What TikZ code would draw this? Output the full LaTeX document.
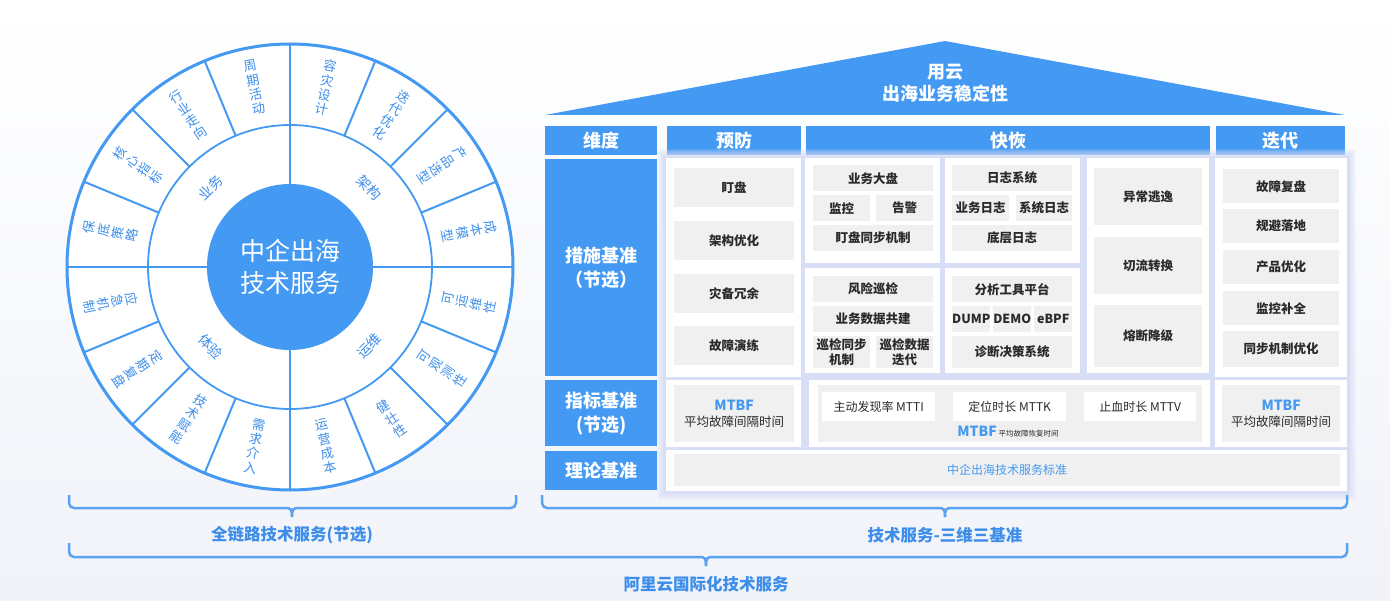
\documentclass[tikz,border=0pt]{standalone}
\usepackage{fontspec}
\setmainfont{Noto Sans CJK SC}
\definecolor{mblue}{HTML}{4499F2}
\definecolor{lblue}{HTML}{3D8EEA}
\definecolor{bblue}{HTML}{5AA2F2}
\definecolor{gbox}{HTML}{F0F0F0}
\definecolor{dtext}{HTML}{2A2A2A}
\definecolor{shad}{HTML}{D8DEF6}
\definecolor{bgc}{HTML}{F1F3F9}
\newcommand{\mybox}[7]{\node[#2,anchor=north west,inner sep=0pt,minimum width={(#5-#3)*1pt},minimum height={(#6-#4)*1pt}] (#1) at (#3,#4) {#7};}
\newcommand{\olab}[4]{\node[otx,rotate=#3] (#1) at (#2:183) {#4};}
\newcommand{\mybrace}[6]{%
 \coordinate (#1l) at (#2,#5); \coordinate (#1r) at (#3,#5); \coordinate (#1t) at (#4,#6+9);
 \draw[brc,rounded corners=5pt] (#1l) -- (#2,#6) -- (#4-7,#6);
 \draw[brc] (#4-7,#6) .. controls (#4-1,#6) and (#4,#6+1) .. (#1t);
 \draw[brc,rounded corners=5pt] (#1r) -- (#3,#6) -- (#4+7,#6);
 \draw[brc] (#4+7,#6) .. controls (#4+1,#6) and (#4,#6+1) .. (#1t);}
\begin{document}
\begin{tikzpicture}[x=1pt,y=-1pt,
 hdr/.style={fill=mblue,text=white,font=\bfseries\fontsize{18}{24}\selectfont,align=center},
 gbx/.style={fill=gbox,text=dtext,font=\bfseries\fontsize{12.5}{15}\selectfont,align=center},
 gbn/.style={fill=gbox,text=dtext,font=\fontsize{12.5}{16}\selectfont,align=center},
 wbx/.style={fill=white,text=dtext,font=\fontsize{12}{15}\selectfont,align=center},
 pnl/.style={fill=white},
 otx/.style={text=lblue,font=\fontsize{13}{14.5}\selectfont,align=center,inner sep=0pt},
 mtx/.style={text=lblue,font=\fontsize{14}{16}\selectfont,inner sep=0pt},
 spoke/.style={draw=mblue,line width=2pt},
 brc/.style={draw=bblue,line width=2.5pt},
 blab/.style={text=lblue,font=\bfseries\fontsize{16.5}{20}\selectfont}]
\useasboundingbox (0,0) rectangle (1390,601);
\shade[top color=white,bottom color=bgc] (0,0) rectangle (1390,601);

% ---------- wheel ----------
\begin{scope}[shift={(290,267)},yscale=-1]
 \fill[white] (0,0) circle (223);
 \foreach \a in {0,22.5,...,337.5} \draw[spoke] (\a:142) -- (\a:223);
 \draw[spoke] (-223,0) -- (223,0);
 \draw[spoke] (0,-223) -- (0,223);
 \draw[draw=mblue,line width=1.8pt] (0,0) circle (142);
 \draw[draw=mblue,line width=3pt] (0,0) circle (223);
 \fill[mblue] (0,0) circle (83);
 \node[text=white,font=\fontsize{25}{32}\selectfont,align=center] (core) at (0,0) {中企出海\\技术服务};
 \node[mtx,rotate=45] (m1) at (135:112) {业务};
 \node[mtx,rotate=-45] (m2) at (45:112) {架构};
 \node[mtx,rotate=45] (m3) at (-45:112) {运维};
 \node[mtx,rotate=-45] (m4) at (225:112) {体验};
 \olab{o1}{101.25}{11.25}{周\\期\\活\\动}
 \olab{o2}{123.75}{33.75}{行\\业\\走\\向}
 \olab{o3}{146.25}{56.25}{核\\心\\指\\标}
 \olab{o4}{168.75}{78.75}{保\\底\\策\\略}
 \olab{o5}{78.75}{-11.25}{容\\灾\\设\\计}
 \olab{o6}{56.25}{-33.75}{迭\\代\\优\\化}
 \olab{o7}{33.75}{-56.25}{产\\品\\选\\型}
 \olab{o8}{11.25}{-78.75}{成\\本\\模\\型}
 \olab{o9}{-11.25}{78.75}{可\\运\\维\\性}
 \olab{o10}{-33.75}{56.25}{可\\观\\测\\性}
 \olab{o11}{-56.25}{33.75}{健\\壮\\性}
 \olab{o12}{-78.75}{11.25}{运\\营\\成\\本}
 \olab{o13}{191.25}{281.25}{应\\急\\机\\制}
 \olab{o14}{213.75}{303.75}{定\\期\\复\\盘}
 \olab{o15}{236.25}{326.25}{技\\术\\赋\\能}
 \olab{o16}{258.75}{348.75}{需\\求\\介\\入}
\end{scope}

% ---------- roof ----------
\fill[mblue] (545,115) -- (945,41) -- (1345,115) -- cycle;
\node[text=white,font=\bfseries\fontsize{18}{22}\selectfont,align=center] (roof) at (945,83) {用云\\出海业务稳定性};

% ---------- headers ----------
\mybox{h0}{hdr}{545}{126}{657}{155}{维度}
\mybox{h1}{hdr}{667}{126}{801}{155}{预防}
\mybox{h2}{hdr}{806}{126}{1210}{155}{快恢}
\mybox{h3}{hdr}{1216}{126}{1345}{155}{迭代}
\mybox{r1}{hdr}{545}{159}{657}{376}{措施基准\\（节选）}
\mybox{r2}{hdr}{545}{380}{657}{446}{指标基准\\(节选)}
\mybox{r3}{hdr}{545}{451}{657}{490}{理论基准}

% ---------- glow behind panels ----------
\foreach \k in {1,...,6} \fill[shad,opacity=0.16] (663-\k,155-\k) rectangle (1350+\k,494+\k);
\fill[shad] (663,156) rectangle (1350,494);

% ---------- panels ----------
\mybox{p1}{pnl}{666}{158}{801}{377}{}
\mybox{p2}{pnl}{805}{158}{940}{263}{}
\mybox{p3}{pnl}{805}{268}{940}{373}{}
\mybox{p4}{pnl}{945}{158}{1080}{263}{}
\mybox{p5}{pnl}{945}{268}{1080}{373}{}
\mybox{p6}{pnl}{1087}{158}{1209}{373}{}
\mybox{p7}{pnl}{1215}{158}{1347}{377}{}
\mybox{p8}{pnl}{666}{380}{801}{447}{}
\mybox{p9}{pnl}{809}{380}{1210}{447}{}
\mybox{p10}{pnl}{1215}{380}{1347}{447}{}
\mybox{p11}{pnl}{666}{450}{1347}{491}{}

% 预防
\mybox{a1}{gbx}{674}{168}{794}{207}{盯盘}
\mybox{a2}{gbx}{674}{221}{794}{260}{架构优化}
\mybox{a3}{gbx}{674}{274}{794}{313}{灾备冗余}
\mybox{a4}{gbx}{674}{326}{794}{365}{故障演练}
% 快恢 col 1
\mybox{b1}{gbx}{813}{165}{933}{191}{业务大盘}
\mybox{b2}{gbx}{813}{195}{870}{221}{监控}
\mybox{b3}{gbx}{876}{195}{933}{221}{告警}
\mybox{b4}{gbx}{813}{225}{933}{251}{盯盘同步机制}
\mybox{b5}{gbx}{813}{276}{933}{302}{风险巡检}
\mybox{b6}{gbx}{813}{306}{933}{332}{业务数据共建}
\mybox{b7}{gbx}{813}{336}{870}{368}{巡检同步\\机制}
\mybox{b8}{gbx}{876}{336}{933}{368}{巡检数据\\迭代}
% 快恢 col 2
\mybox{c1}{gbx}{952}{165}{1072}{191}{日志系统}
\mybox{c2}{gbx}{952}{195}{1009}{221}{业务日志}
\mybox{c3}{gbx}{1016}{195}{1072}{221}{系统日志}
\mybox{c4}{gbx}{952}{225}{1072}{251}{底层日志}
\mybox{c5}{gbx}{952}{276}{1072}{302}{分析工具平台}
\mybox{c6}{gbx}{952}{306}{990}{332}{DUMP}
\mybox{c7}{gbx}{993}{306}{1031}{332}{DEMO}
\mybox{c8}{gbx}{1034}{306}{1072}{332}{eBPF}
\mybox{c9}{gbx}{952}{336}{1072}{368}{诊断决策系统}
% 快恢 col 3
\mybox{d1}{gbx}{1094}{168}{1202}{225}{异常逃逸}
\mybox{d2}{gbx}{1094}{237}{1202}{294}{切流转换}
\mybox{d3}{gbx}{1094}{305}{1202}{367}{熔断降级}
% 迭代
\mybox{e1}{gbx}{1223}{169}{1339}{203}{故障复盘}
\mybox{e2}{gbx}{1223}{209}{1339}{243}{规避落地}
\mybox{e3}{gbx}{1223}{250}{1339}{284}{产品优化}
\mybox{e4}{gbx}{1223}{291}{1339}{325}{监控补全}
\mybox{e5}{gbx}{1223}{331}{1339}{367}{同步机制优化}

% 指标 row
\mybox{f1}{gbn}{674}{385}{794}{442}{{\color{mblue}\bfseries\fontsize{14}{17}\selectfont MTBF}\\平均故障间隔时间}
\mybox{f2}{gbn}{818}{385}{1202}{442}{}
\mybox{f3}{wbx}{822}{392}{935}{421}{主动发现率 MTTI}
\mybox{f4}{wbx}{953}{392}{1066}{421}{定位时长 MTTK}
\mybox{f5}{wbx}{1084}{392}{1196}{421}{止血时长 MTTV}
\node[text=dtext,inner sep=0pt] (f6) at (1008,432) {{\color{mblue}\bfseries\fontsize{14}{16}\selectfont MTBF}\,{\fontsize{7.5}{9}\selectfont 平均故障恢复时间}};
\mybox{f7}{gbn}{1222}{385}{1340}{442}{{\color{mblue}\bfseries\fontsize{14}{17}\selectfont MTBF}\\平均故障间隔时间}
% 理论 row
\mybox{g1}{gbn}{674}{454}{1340}{486}{\color{mblue}\fontsize{12}{14}\selectfont 中企出海技术服务标准}

% ---------- braces ----------
\mybrace{k1}{69}{516}{292}{495}{508}
\mybrace{k2}{542}{1347}{945}{495}{508}
\mybrace{k3}{69}{1347}{706}{543}{557}
\node[blab] (l1) at (292,535) {全链路技术服务(节选)};
\node[blab] (l2) at (945,535) {技术服务-三维三基准};
\node[blab] (l3) at (706,584) {阿里云国际化技术服务};
\end{tikzpicture}
\end{document}
